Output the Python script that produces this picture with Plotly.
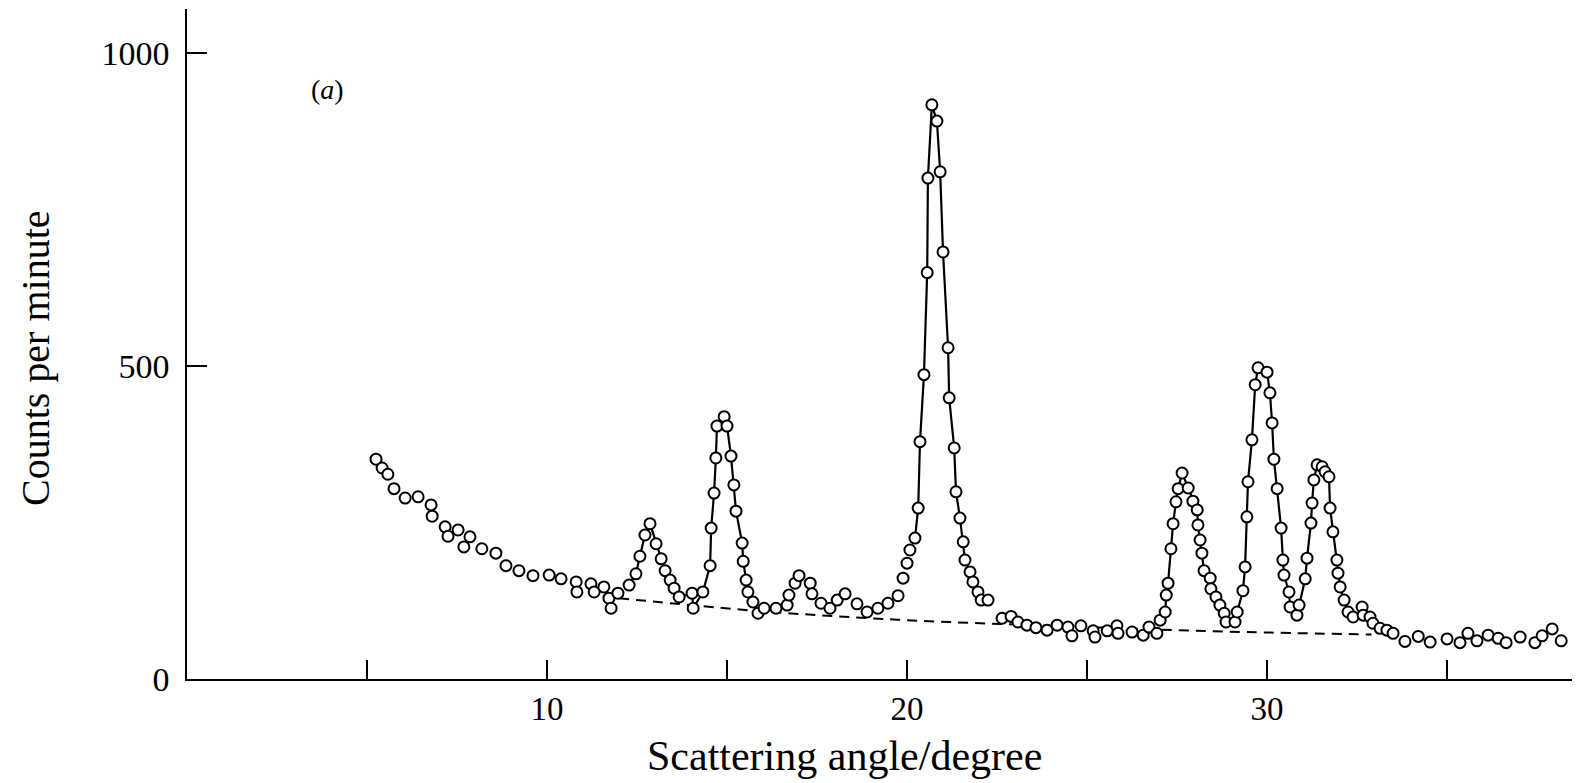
import plotly.graph_objects as go

# Scattering angle (degree) and counts per minute
angle = [5.25, 5.42, 5.58, 5.75, 6.06, 6.42, 6.78, 6.81, 7.17, 7.25, 7.53, 7.69, 7.86,
         8.19, 8.58, 8.86, 9.22, 9.61, 10.06, 10.39, 10.81, 10.83, 11.22, 11.31, 11.58,
         11.72, 11.78, 11.97, 12.28, 12.47, 12.58, 12.72, 12.86, 13.03, 13.17, 13.28,
         13.42, 13.53, 13.67, 14.03, 14.06, 14.33, 14.53, 14.56, 14.64, 14.69, 14.72,
         14.92, 15.0, 15.11, 15.19, 15.25, 15.42, 15.45, 15.53, 15.58, 15.72, 15.86,
         16.03, 16.36, 16.67, 16.72, 16.89, 17.0, 17.31, 17.36, 17.61, 17.86, 18.06,
         18.28, 18.61, 18.89, 19.19, 19.47, 19.75, 19.89, 20.0, 20.08, 20.22, 20.31,
         20.36, 20.47, 20.56, 20.58, 20.69, 20.83, 20.92, 21.0, 21.14, 21.17, 21.31,
         21.36, 21.47, 21.56, 21.61, 21.75, 21.83, 21.97, 22.06, 22.25, 22.64, 22.89,
         23.08, 23.33, 23.58, 23.89, 24.17, 24.47, 24.58, 24.83, 25.17, 25.22, 25.56,
         25.83, 25.86, 26.25, 26.56, 26.72, 26.94, 27.03, 27.17, 27.2, 27.25, 27.33,
         27.39, 27.47, 27.53, 27.64, 27.81, 27.94, 28.06, 28.08, 28.14, 28.19, 28.25,
         28.42, 28.44, 28.58, 28.69, 28.81, 28.86, 29.11, 29.17, 29.33, 29.39, 29.44,
         29.47, 29.58, 29.67, 29.75, 30.0, 30.08, 30.14, 30.19, 30.28, 30.39, 30.44,
         30.47, 30.61, 30.64, 30.83, 30.89, 31.06, 31.11, 31.22, 31.25, 31.3, 31.39,
         31.53, 31.61, 31.72, 31.75, 31.83, 31.94, 31.97, 32.03, 32.14, 32.25, 32.39,
         32.64, 32.67, 32.86, 32.94, 33.14, 33.33, 33.5, 33.83, 34.2, 34.53, 35.0,
         35.36, 35.58, 35.83, 36.14, 36.42, 36.64, 37.03, 37.44, 37.64, 37.92, 38.17]

counts = [351, 337, 327, 304, 289, 291, 278, 260, 243, 228, 238, 211, 227,
          208, 201, 181, 173, 165, 166, 160, 155, 139, 152, 139, 147,
          129, 113, 137, 150, 168, 196, 230, 248, 216, 192, 173,
          158, 145, 131, 137, 113, 139, 181, 241, 297, 353, 404,
          419, 404, 356, 310, 268, 217, 188, 158, 139, 123, 105,
          113, 113, 118, 134, 153, 165, 153, 136, 121, 113, 126,
          136, 120, 107, 113, 121, 133, 161, 185, 206, 225, 273,
          379, 486, 649, 800, 917, 891, 810, 682, 529, 449, 369,
          299, 257, 219, 190, 171, 155, 139, 126, 126, 97, 100,
          91, 86, 82, 78, 86, 83, 69, 85, 77, 67, 77,
          85, 73, 75, 70, 83, 73, 94, 107, 134, 153, 208,
          248, 283, 304, 329, 305, 284, 270, 246, 222, 201, 173,
          161, 144, 131, 118, 105, 91, 91, 107, 141, 179, 259,
          315, 382, 470, 497, 490, 457, 409, 351, 304, 241, 190,
          166, 139, 115, 102, 118, 160, 193, 249, 281, 318, 342,
          339, 331, 323, 273, 235, 190, 169, 147, 126, 107, 99,
          115, 102, 99, 89, 81, 78, 73, 60, 68, 59, 64,
          58, 73, 61, 70, 65, 58, 67, 58, 69, 80, 61]

# angle ranges over which the data points are joined by a solid curve
peak_ranges = [(12.2, 16.0), (20.2, 22.1), (27.1, 32.3)]

# dashed background line
baseline_angle = [12.0, 16.0, 20.0, 24.0, 28.0, 32.9]
baseline_counts = [129, 108, 94, 85, 77, 71]

x_ticks = [5, 10, 15, 20, 25, 30, 35]
x_tick_text = ["", "10", "", "20", "", "30", ""]
y_ticks = [0, 500, 1000]

FONT = "Liberation Serif, Times New Roman, serif"

line_x, line_y = [], []
for lo, hi in peak_ranges:
    for a, c in zip(angle, counts):
        if lo <= a <= hi:
            line_x.append(a)
            line_y.append(c)
    line_x.append(None)
    line_y.append(None)

fig = go.Figure()
fig.add_trace(go.Scatter(x=line_x, y=line_y, mode="lines",
                         line=dict(color="black", width=2.2),
                         connectgaps=False, hoverinfo="skip", showlegend=False))
fig.add_trace(go.Scatter(x=baseline_angle, y=baseline_counts, mode="lines",
                         line=dict(color="black", width=2, dash="10px,7px"),
                         line_shape="spline", showlegend=False))
fig.add_trace(go.Scatter(x=angle, y=counts, mode="markers",
                         marker=dict(symbol="circle", size=11, color="white",
                                     line=dict(color="black", width=2)),
                         showlegend=False))

# page pixel geometry of the plot area (the page body adds an 8 px offset)
PL, PR, PT, PB = 187, 1572, 9, 679
W = PR - PL
H = PB - PT

fig.add_annotation(x=3.9, y=942, xref="x", yref="y", text="(<i>a</i>)",
                   showarrow=False, font=dict(family=FONT, size=28, color="black"))
fig.add_annotation(x=(844 - PL) / W, y=-(756 - PB) / H, xref="paper", yref="paper",
                   text="Scattering angle/degree", showarrow=False,
                   xanchor="center", yanchor="middle",
                   font=dict(family=FONT, size=42, color="black"))
fig.add_annotation(x=(35 - PL) / W, y=1 - (358 - PT) / H, xref="paper", yref="paper",
                   text="Counts per minute", showarrow=False, textangle=-90,
                   xanchor="center", yanchor="middle",
                   font=dict(family=FONT, size=40, color="black"))

fig.update_layout(
    width=1577, height=775,
    margin=dict(l=PL - 8, r=1577 - (PR - 8), t=PT - 8, b=775 - (PB - 8)),
    paper_bgcolor="white", plot_bgcolor="white",
    font=dict(family=FONT, color="black"),
    showlegend=False,
)
fig.update_xaxes(range=[0, 38.47], showgrid=False, zeroline=False,
                 showline=True, linecolor="black", linewidth=1.5,
                 ticks="inside", ticklen=19, tickwidth=1.5, tickcolor="black",
                 tickvals=x_ticks, ticktext=x_tick_text,
                 tickfont=dict(family=FONT, size=33, color="black"),
                 ticklabelstandoff=0)
fig.update_yaxes(range=[0, 1070], showgrid=False, zeroline=False,
                 showline=True, linecolor="black", linewidth=1.5,
                 ticks="inside", ticklen=20, tickwidth=1.5, tickcolor="black",
                 tickvals=y_ticks,
                 tickfont=dict(family=FONT, size=34, color="black"),
                 ticklabelstandoff=9)

fig.write_html("out.html")
